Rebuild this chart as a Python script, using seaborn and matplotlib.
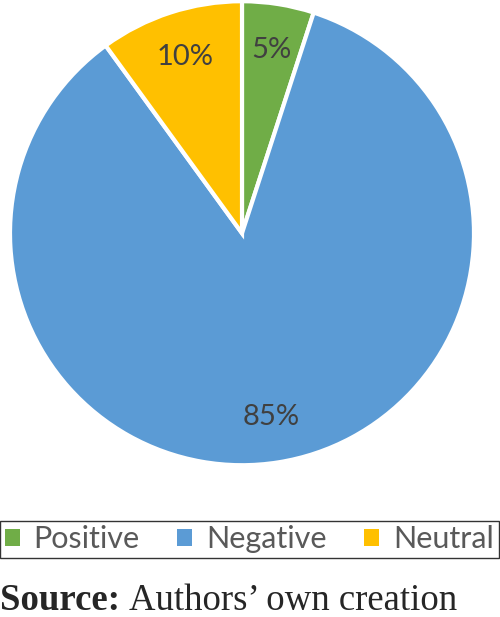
import matplotlib
matplotlib.use("Agg")
import matplotlib.pyplot as plt
from matplotlib.patches import Patch
import seaborn as sns

# data
categories = ["Positive", "Negative", "Neutral"]
shares = [5, 85, 10]
colors = ["#70AD47", "#5B9BD5", "#FFC000"]

sns.set_theme(style="white")
plt.rcParams["font.family"] = ["Lato", "DejaVu Sans"]

fig = plt.figure(figsize=(5, 6.17), dpi=100)
ax = fig.add_axes([0.02, 0.246, 0.928, 0.752])

palette = sns.color_palette(colors)
wedges, texts, autotexts = ax.pie(
    shares,
    colors=palette,
    startangle=90,
    counterclock=False,
    autopct="%d%%",
    pctdistance=0.8,
    radius=1.0,
    wedgeprops={"edgecolor": "white", "linewidth": 3},
    textprops={"fontsize": 21, "color": "#404040"},
)
ax.set_xlim(-1.0, 1.0)
ax.set_ylim(-1.0, 1.0)
ax.set_aspect("equal")
ax.axis("off")

# legend in a thin black box across the bottom
handles = [Patch(facecolor=c, edgecolor="none") for c in colors]
leg = fig.legend(
    handles, categories,
    loc="center", ncol=3,
    bbox_to_anchor=(0.0, 0.0908, 0.997, 0.0697),
    mode="expand",
    frameon=True, fancybox=False,
    fontsize=22,
    handlelength=0.5, handleheight=0.5, handletextpad=0.45,
    borderpad=0.15, borderaxespad=0,
    labelcolor="#595959",
)
leg.get_frame().set_edgecolor("black")
leg.get_frame().set_linewidth(1.0)

serif = ["Liberation Serif", "DejaVu Serif"]
src = fig.text(0.0, 0.011, "Source:", fontsize=26.5, fontweight="bold",
               family=serif, ha="left", va="baseline")
fig.canvas.draw()
bb = src.get_window_extent().transformed(fig.transFigure.inverted())
fig.text(bb.x1 + 0.018, 0.011, "Authors\u2019 own creation", fontsize=26.5,
         family=serif, ha="left", va="baseline")

fig.savefig("out.png", dpi=100, facecolor="white")
